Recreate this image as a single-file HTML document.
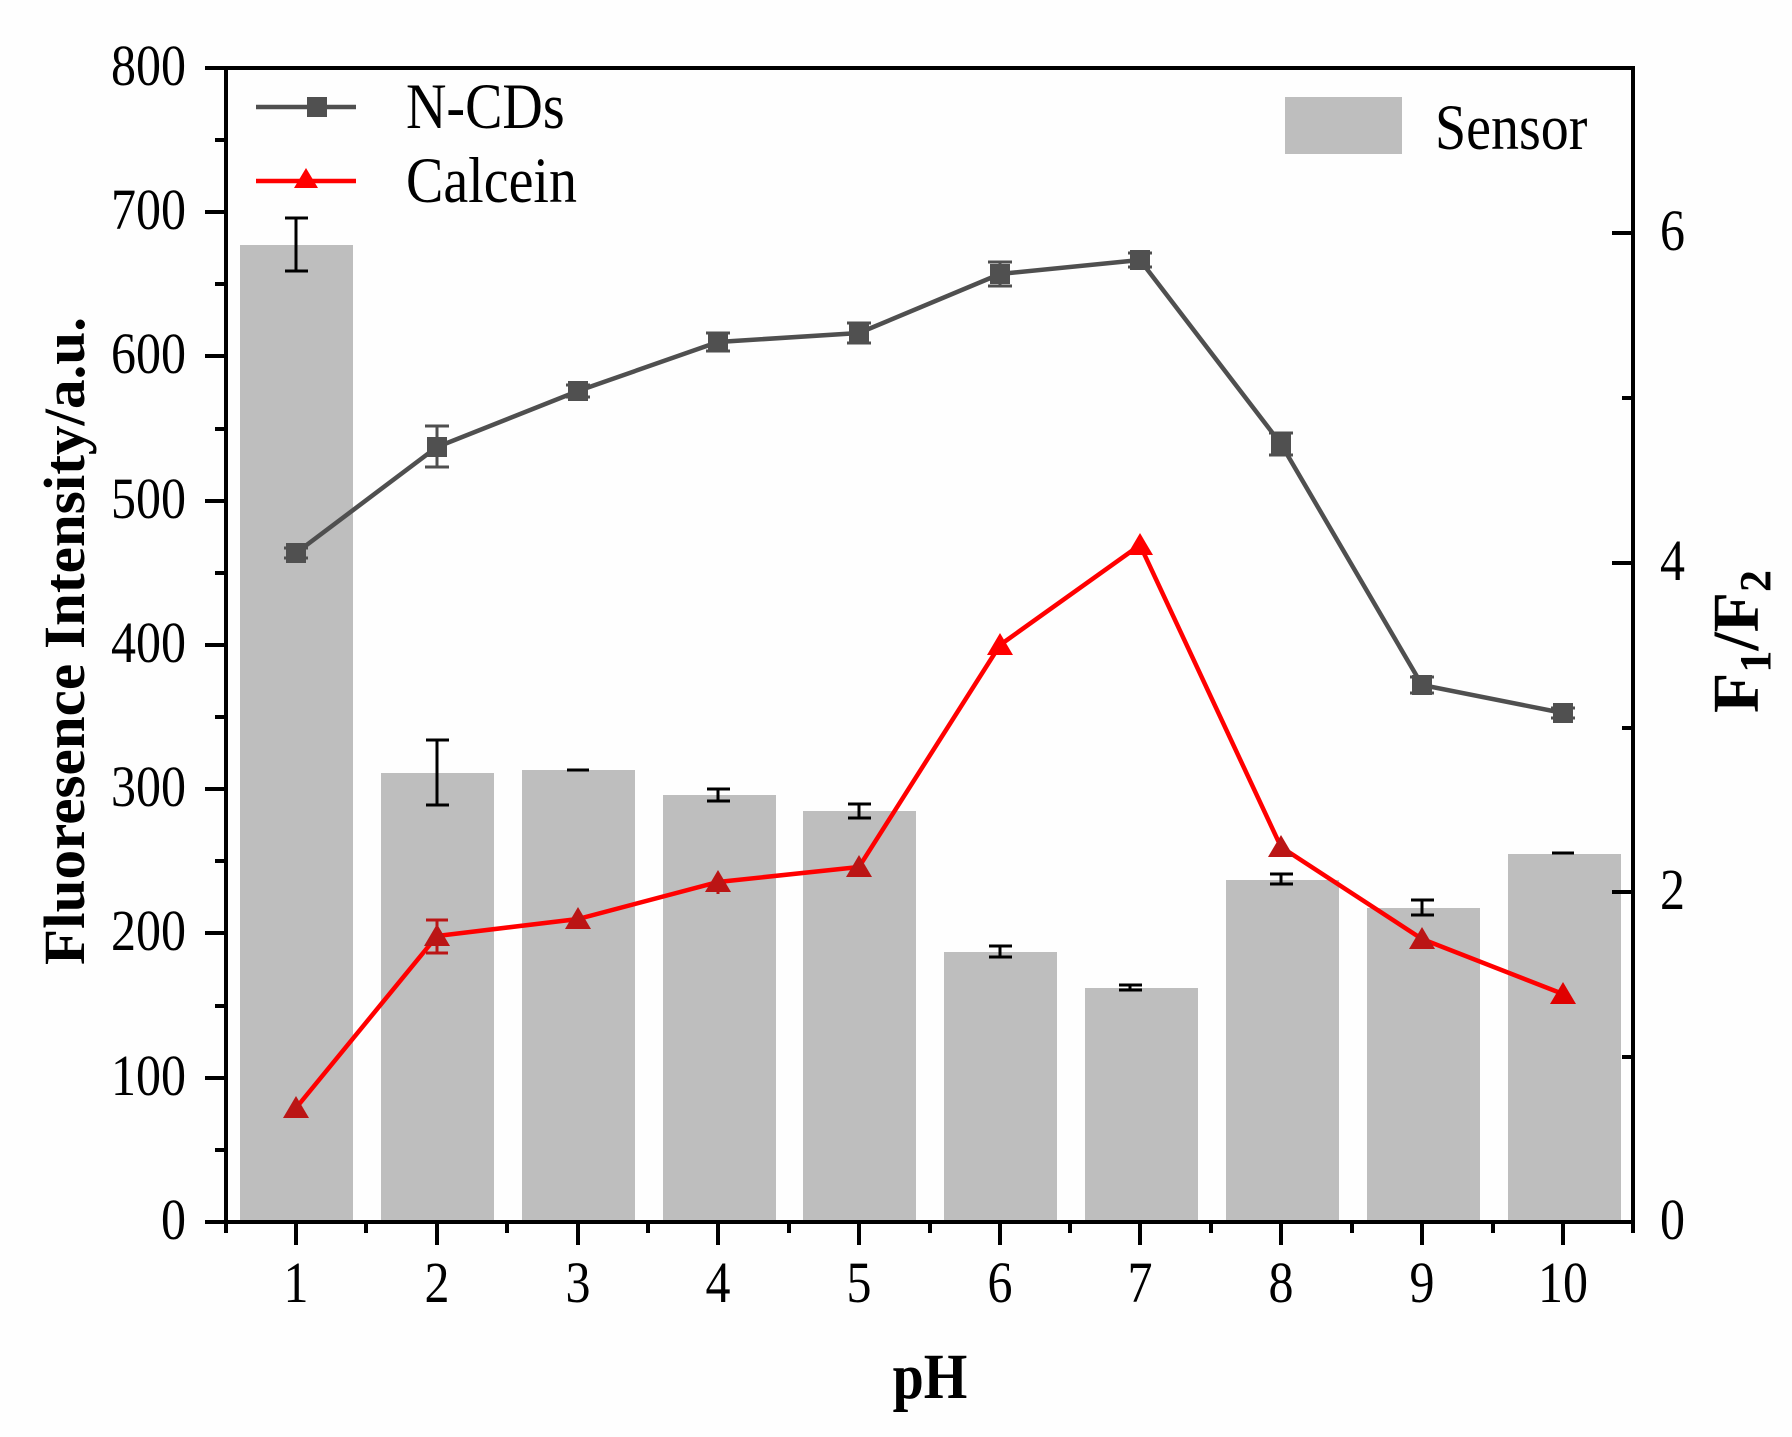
<!DOCTYPE html>
<html><head><meta charset="utf-8"><style>
html,body{margin:0;padding:0;background:#fff;}
svg{display:block;}
text{font-family:"Liberation Serif",serif;fill:#000;}
</style></head><body>
<svg width="1792" height="1437" viewBox="0 0 1792 1437" xmlns="http://www.w3.org/2000/svg">
<rect width="1792" height="1437" fill="#fefefe"/>
<g fill="#bebebe">
<rect x="240" y="245" width="113" height="977"/>
<rect x="381" y="773" width="113" height="449"/>
<rect x="522" y="770" width="113" height="452"/>
<rect x="663" y="795" width="113" height="427"/>
<rect x="803" y="811" width="113" height="411"/>
<rect x="944" y="952" width="113" height="270"/>
<rect x="1085" y="988" width="113" height="234"/>
<rect x="1226" y="880" width="113" height="342"/>
<rect x="1367" y="908" width="113" height="314"/>
<rect x="1508" y="854" width="113" height="368"/>
</g>
<g stroke="#000" stroke-width="3" fill="none">
<path d="M296 218V271M285 218H308M285 271H308"/>
<path d="M437 740V805M426 740H449M426 805H449"/>
<path d="M567 770H589"/>
<path d="M718 789V801M707 789H730M707 801H730"/>
<path d="M859 804V818M848 804H871M848 818H871"/>
<path d="M1000 946V957M989 946H1012M989 957H1012"/>
<path d="M1130 985V990M1119 985H1142M1119 990H1142"/>
<path d="M1281 874V884M1270 874H1293M1270 884H1293"/>
<path d="M1422 900V915M1411 900H1434M1411 915H1434"/>
<path d="M1552 853H1574"/>
</g>
<g stroke="#4f4f4f" stroke-width="4.5" fill="none">
<polyline points="296,553 437,447 578,391 718,342 859,333 1000,274 1140,260 1281,444 1422,685 1563,713"/>
<path d="M284,548H308M284,558H308 M425,426H449M425,467H449M437,426V467 M566,385H590M566,397H590 M706,333H730M706,351H730M718,333V351 M847,323H871M847,343H871M859,323V343 M988,262H1012M988,286H1012M1000,262V286 M1128,253H1152M1128,267H1152 M1269,433H1293M1269,455H1293M1281,433V455 M1410,677H1434M1410,693H1434 M1551,708H1575M1551,718H1575" stroke-width="3"/>
</g>
<g fill="#505050">
<rect x="286" y="543" width="20" height="20"/>
<rect x="427" y="437" width="20" height="20"/>
<rect x="568" y="381" width="20" height="20"/>
<rect x="708" y="332" width="20" height="20"/>
<rect x="849" y="323" width="20" height="20"/>
<rect x="990" y="264" width="20" height="20"/>
<rect x="1130" y="250" width="20" height="20"/>
<rect x="1271" y="434" width="20" height="20"/>
<rect x="1412" y="675" width="20" height="20"/>
<rect x="1553" y="703" width="20" height="20"/>
</g>
<g stroke="#ff0000" stroke-width="4.5" fill="none">
<polyline points="296,1108 437,936 578,919 718,882 859,867 1000,645 1140,545 1281,847 1422,939 1563,994"/>
<path d="M426,920H448M426,953H448M437,920V953 M718,874V894" stroke="#bb1515" stroke-width="3"/>
</g>
<g>
<polygon points="296,1096 283,1118 309,1118" fill="#bb1515"/>
<polygon points="437,924 424,946 450,946" fill="#bb1515"/>
<polygon points="578,907 565,929 591,929" fill="#bb1515"/>
<polygon points="718,870 705,892 731,892" fill="#bb1515"/>
<polygon points="859,855 846,877 872,877" fill="#bb1515"/>
<polygon points="1000,633 987,655 1013,655" fill="#ff0000"/>
<polygon points="1140,533 1127,555 1153,555" fill="#ff0000"/>
<polygon points="1281,835 1268,857 1294,857" fill="#bb1515"/>
<polygon points="1422,927 1409,949 1435,949" fill="#bb1515"/>
<polygon points="1563,982 1550,1004 1576,1004" fill="#e00000"/>
</g>
<g stroke="#000" stroke-width="4" fill="none" stroke-linecap="square">
<path d="M226,68H1633V1222H226Z"/>
</g>
<g stroke="#000" stroke-width="4" fill="none">
<path d="M205,68H226M205,212H226M205,356H226M205,501H226M205,645H226M205,789H226M205,933H226M205,1078H226M205,1222H226"/>
<path d="M215,140H226M215,284H226M215,429H226M215,573H226M215,717H226M215,861H226M215,1006H226M215,1150H226"/>
<path d="M296,1222V1245M437,1222V1245M578,1222V1245M718,1222V1245M859,1222V1245M1000,1222V1245M1140,1222V1245M1281,1222V1245M1422,1222V1245M1563,1222V1245"/>
<path d="M226,1222V1233M366,1222V1233M507,1222V1233M648,1222V1233M789,1222V1233M930,1222V1233M1070,1222V1233M1211,1222V1233M1352,1222V1233M1493,1222V1233M1633,1222V1233"/>
<path d="M1612,233H1633M1612,563H1633M1612,892H1633M1622,398H1633M1622,728H1633M1622,1057H1633"/>
</g>
<g font-size="50" text-anchor="end">
<text transform="translate(186,85) scale(1,1.16)">800</text>
<text transform="translate(186,229) scale(1,1.16)">700</text>
<text transform="translate(186,373) scale(1,1.16)">600</text>
<text transform="translate(186,518) scale(1,1.16)">500</text>
<text transform="translate(186,662) scale(1,1.16)">400</text>
<text transform="translate(186,806) scale(1,1.16)">300</text>
<text transform="translate(186,950) scale(1,1.16)">200</text>
<text transform="translate(186,1095) scale(1,1.16)">100</text>
<text transform="translate(186,1239) scale(1,1.16)">0</text>
</g>
<g font-size="50" text-anchor="middle">
<text transform="translate(296,1302) scale(1,1.16)">1</text>
<text transform="translate(437,1302) scale(1,1.16)">2</text>
<text transform="translate(578,1302) scale(1,1.16)">3</text>
<text transform="translate(718,1302) scale(1,1.16)">4</text>
<text transform="translate(859,1302) scale(1,1.16)">5</text>
<text transform="translate(1000,1302) scale(1,1.16)">6</text>
<text transform="translate(1140,1302) scale(1,1.16)">7</text>
<text transform="translate(1281,1302) scale(1,1.16)">8</text>
<text transform="translate(1422,1302) scale(1,1.16)">9</text>
<text transform="translate(1563,1302) scale(1,1.16)">10</text>
</g>
<g font-size="50">
<text transform="translate(1660,250) scale(1,1.16)">6</text>
<text transform="translate(1660,580) scale(1,1.16)">4</text>
<text transform="translate(1660,909) scale(1,1.16)">2</text>
<text transform="translate(1660,1239) scale(1,1.16)">0</text>
</g>
<text transform="translate(930,1398) scale(1,1.16)" font-size="56" font-weight="bold" text-anchor="middle">pH</text>
<text transform="translate(84,641) rotate(-90)" font-size="58" font-weight="bold" text-anchor="middle" textLength="648" lengthAdjust="spacingAndGlyphs">Fluoresence Intensity/a.u.</text>
<text transform="translate(1758,713) rotate(-90)" font-size="66" font-weight="bold">F<tspan font-size="44" dy="12">1</tspan><tspan dy="-12">/F</tspan><tspan font-size="44" dy="12">2</tspan></text>
<g stroke-width="4.5" fill="none">
<path d="M256,107H356" stroke="#4f4f4f"/>
<path d="M256,181H356" stroke="#ff0000"/>
</g>
<rect x="307" y="97" width="20" height="20" fill="#505050"/>
<polygon points="306,168 294,188 318,188" fill="#ff0000"/>
<g font-size="56">
<text transform="translate(406,128) scale(1,1.16)">N-CDs</text>
<text transform="translate(406,202) scale(1,1.16)">Calcein</text>
<text transform="translate(1435,149) scale(1,1.16)">Sensor</text>
</g>
<rect x="1285" y="97" width="117" height="57" fill="#bebebe"/>
</svg>
</body></html>
